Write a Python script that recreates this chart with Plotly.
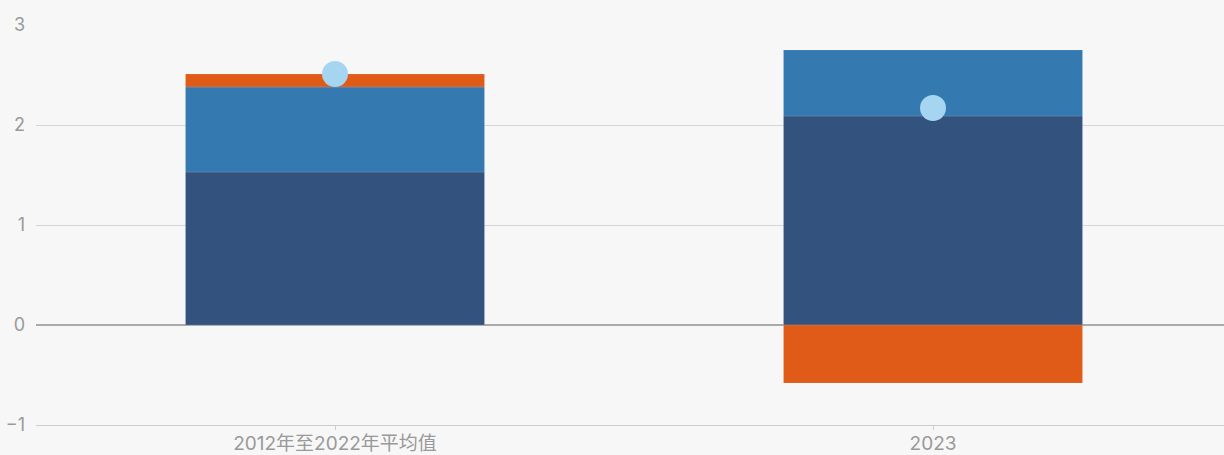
import plotly.graph_objects as go

categories = ["2012年至2022年平均值", "2023"]
series_dark = [1.53, 2.09]
series_mid = [0.85, 0.66]
series_orange = [0.13, -0.58]
totals = [2.51, 2.17]
y_ticks = [-1, 0, 1, 2, 3]

colors = {"dark": "#33537e", "mid": "#347ab0", "orange": "#e15b18", "dot": "#a6d5f2"}

fig = go.Figure()
for vals, key in [(series_dark, "dark"), (series_mid, "mid"), (series_orange, "orange")]:
    fig.add_trace(go.Bar(
        x=categories, y=vals, width=0.5,
        marker=dict(color=colors[key], line=dict(color="rgba(255,255,255,0.12)", width=1)),
        showlegend=False,
    ))

fig.add_trace(go.Scatter(
    x=categories, y=totals, mode="markers",
    marker=dict(color=colors["dot"], size=26, line=dict(width=0)),
    showlegend=False,
))

fig.update_layout(
    width=1224, height=455,
    barmode="relative",
    paper_bgcolor="#f7f7f7", plot_bgcolor="#f7f7f7",
    margin=dict(l=36, r=0, t=25, b=30),
    font=dict(family="Inter, Noto Sans CJK SC, sans-serif", color="#999999", size=18),
    xaxis=dict(
        range=[-0.5, 1.4866], showgrid=False, automargin=False,
        showline=True, linecolor="#cccccc", linewidth=1,
        ticks="outside", ticklen=4, tickcolor="#cccccc",
        ticklabelstandoff=-3,
        tickfont=dict(size=19, color="#999999"),
    ),
    yaxis=dict(
        range=[-1, 3], tickvals=y_ticks, automargin=False,
        showgrid=True, gridcolor="#d6d6d6", gridwidth=1,
        zeroline=True, zerolinecolor="#aaaaaa", zerolinewidth=1.5,
        ticklabelstandoff=10,
        tickfont=dict(size=18, color="#999999"),
    ),
)

fig.write_html("out.html")
